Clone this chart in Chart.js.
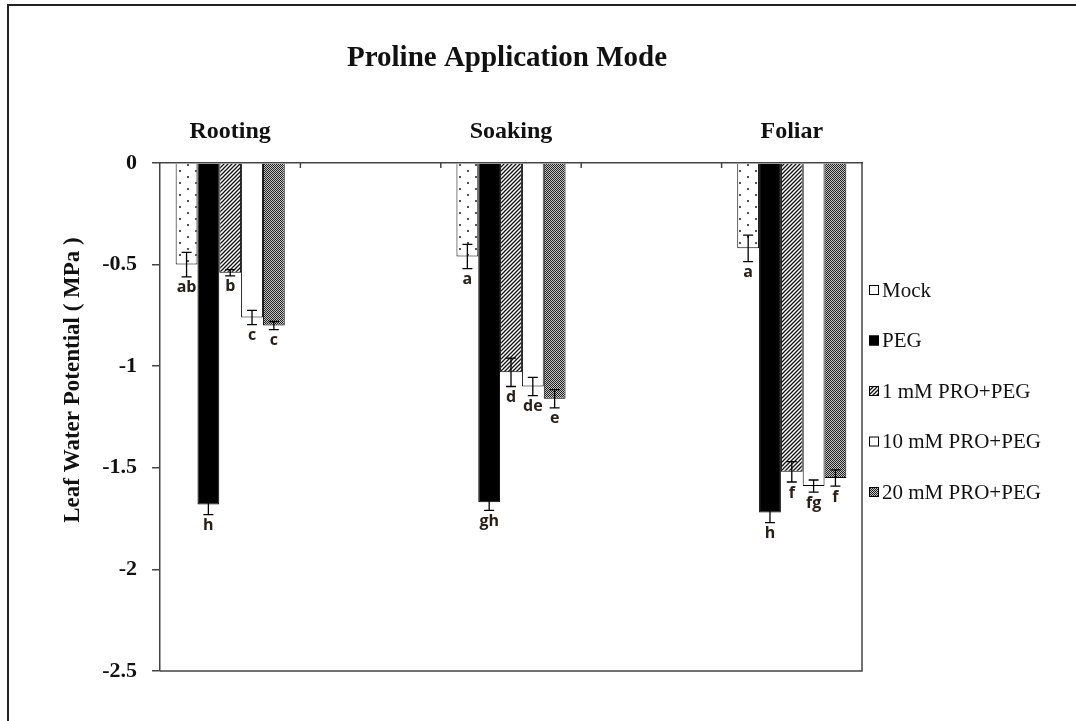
<!DOCTYPE html>
<html>
<head>
<meta charset="utf-8">
<script src="https://cdn.jsdelivr.net/npm/chart.js@4.4.0/dist/chart.umd.min.js"></script>
<style>
html, body { margin: 0; padding: 0; background: #fff; }
#wrap { position: relative; width: 1076px; height: 721px; }
</style>
</head>
<body>
<div id="wrap"><canvas id="myChart"></canvas></div>
<script>
// categories (blank ones keep the spacing between groups)
var categories = ['Rooting', '', 'Soaking', '', 'Foliar'];
var seriesNames = ['Mock', 'PEG', '1 mM PRO+PEG', '10 mM PRO+PEG', '20 mM PRO+PEG'];

var mock = [-0.50, null, -0.46, null, -0.42];
var peg = [-1.68, null, -1.67, null, -1.72];
var pro1 = [-0.54, null, -1.03, null, -1.52];
var pro10 = [-0.76, null, -1.10, null, -1.59];
var pro20 = [-0.80, null, -1.16, null, -1.55];

var mockErr = [0.06, null, 0.06, null, 0.065];
var pegErr = [0.05, null, 0.04, null, 0.05];
var pro1Err = [0.015, null, 0.07, null, 0.05];
var pro10Err = [0.035, null, 0.045, null, 0.03];
var pro20Err = [0.02, null, 0.045, null, 0.04];

var mockLetters = ['ab', '', 'a', '', 'a'];
var pegLetters = ['h', '', 'gh', '', 'h'];
var pro1Letters = ['b', '', 'd', '', 'f'];
var pro10Letters = ['c', '', 'de', '', 'fg'];
var pro20Letters = ['c', '', 'e', '', 'f'];

var yTicks = [0, -0.5, -1, -1.5, -2, -2.5];
var chartTitle = 'Proline Application Mode';
var yTitle = 'Leaf Water Potential ( MPa )';

var ctx = document.getElementById('myChart').getContext('2d');
var serif = "'Liberation Serif', 'Times New Roman', serif";

function makePattern(w, h, draw) {
  var c = document.createElement('canvas');
  c.width = w; c.height = h;
  var g = c.getContext('2d');
  g.fillStyle = '#fff';
  g.fillRect(0, 0, w, h);
  draw(g);
  return ctx.createPattern(c, 'repeat');
}

var dotPattern = makePattern(16, 12, function (g) {
  g.fillStyle = '#555';
  g.fillRect(3, 2, 2, 2);
  g.fillRect(11, 8, 2, 2);
});
var hatchPattern = makePattern(4, 4, function (g) {
  g.strokeStyle = '#111';
  g.lineWidth = 1.3;
  g.beginPath();
  g.moveTo(-1, 5); g.lineTo(5, -1);
  g.moveTo(-1, 1); g.lineTo(1, -1);
  g.moveTo(3, 5); g.lineTo(5, 3);
  g.stroke();
});
var densePattern = makePattern(2, 2, function (g) {
  g.fillStyle = '#c4c4c4';
  g.fillRect(0, 0, 2, 2);
  g.fillStyle = '#222';
  g.fillRect(0, 0, 1, 1);
  g.fillRect(1, 1, 1, 1);
});

var fills = [dotPattern, '#000', hatchPattern, '#fff', densePattern];
var values = [mock, peg, pro1, pro10, pro20];
var errs = [mockErr, pegErr, pro1Err, pro10Err, pro20Err];
var letters = [mockLetters, pegLetters, pro1Letters, pro10Letters, pro20Letters];

var datasets = seriesNames.map(function (name, i) {
  return {
    label: name,
    data: values[i],
    errors: errs[i],
    letters: letters[i],
    backgroundColor: fills[i],
    borderColor: '#000',
    borderWidth: 1,
    categoryPercentage: 0.777,
    barPercentage: 1.0
  };
});

// outer frame, titles, plot box, x ticks
var framePlugin = {
  id: 'frame',
  beforeDraw: function (chart) {
    var c = chart.ctx;
    c.save();
    c.fillStyle = '#fff';
    c.fillRect(0, 0, chart.width, chart.height);
    c.strokeStyle = '#222';
    c.lineWidth = 2;
    c.beginPath();
    c.moveTo(8, chart.height);
    c.lineTo(8, 5);
    c.lineTo(chart.width, 5);
    c.stroke();
    c.fillStyle = '#111';
    c.font = 'bold 29px ' + serif;
    c.textAlign = 'center';
    c.textBaseline = 'middle';
    c.fillText(chartTitle, 507, 59);
    c.translate(73, 380);
    c.rotate(-Math.PI / 2);
    c.font = 'bold 23px ' + serif;
    c.fillText(yTitle, 0, 0);
    c.restore();
  },
  afterDraw: function (chart) {
    var c = chart.ctx, a = chart.chartArea, x = chart.scales.x;
    c.save();
    c.strokeStyle = '#444';
    c.lineWidth = 1.5;
    c.beginPath();
    c.moveTo(a.left, a.bottom);
    c.lineTo(a.right, a.bottom);
    c.lineTo(a.right, a.top);
    for (var i = 0; i < categories.length - 1; i++) {
      var bx = (x.getPixelForValue(i) + x.getPixelForValue(i + 1)) / 2;
      c.moveTo(bx, a.top);
      c.lineTo(bx, a.top + 5);
    }
    c.stroke();
    c.restore();
  }
};

var errorBars = {
  id: 'errorBars',
  afterDatasetsDraw: function (chart) {
    var c = chart.ctx, y = chart.scales.y;
    c.save();
    chart.data.datasets.forEach(function (ds, i) {
      var meta = chart.getDatasetMeta(i);
      meta.data.forEach(function (bar, j) {
        var v = ds.data[j];
        if (v == null) return;
        var e = ds.errors[j];
        var t = y.getPixelForValue(v + e), b = y.getPixelForValue(v - e);
        c.strokeStyle = '#000';
        c.lineWidth = 1.3;
        c.beginPath();
        c.moveTo(bar.x, t); c.lineTo(bar.x, b);
        c.moveTo(bar.x - 5, t); c.lineTo(bar.x + 5, t);
        c.moveTo(bar.x - 5, b); c.lineTo(bar.x + 5, b);
        c.stroke();
        c.fillStyle = '#2a2018';
        c.font = "bold 16px 'Open Sans', sans-serif";
        c.textAlign = 'center';
        c.textBaseline = 'middle';
        c.fillText(ds.letters[j], bar.x, b + 11);
      });
    });
    c.restore();
  }
};

var legendPlugin = {
  id: 'sideLegend',
  afterDraw: function (chart) {
    var c = chart.ctx;
    c.save();
    chart.data.datasets.forEach(function (ds, i) {
      var yy = 290 + i * 50.5;
      c.fillStyle = ds.backgroundColor;
      c.fillRect(869, yy - 5, 10, 10);
      c.strokeStyle = '#000';
      c.lineWidth = 1;
      c.strokeRect(869.5, yy - 4.5, 9, 9);
      c.fillStyle = '#111';
      c.font = '21px ' + serif;
      c.textAlign = 'left';
      c.textBaseline = 'middle';
      c.fillText(ds.label, 882, yy + 1);
    });
    c.restore();
  }
};

var myChart = new Chart(ctx, {
  type: 'bar',
  data: {
    labels: categories,
    datasets: datasets
  },
  plugins: [framePlugin, errorBars, legendPlugin],
  options: {
    responsive: true,
    maintainAspectRatio: false,
    animation: false,
    layout: { padding: { left: 0, right: 214, top: 0, bottom: 50 } },
    plugins: {
      legend: { display: false },
      tooltip: { enabled: false }
    },
    scales: {
      x: {
        position: 'top',
        grid: { display: false, drawTicks: false },
        border: { display: true, color: '#444', width: 1.5 },
        ticks: {
          color: '#111',
          padding: 17,
          maxRotation: 0,
          autoSkip: false,
          font: { family: serif, size: 24, weight: 'bold' }
        },
        afterFit: function (scale) { scale.height = 163; }
      },
      y: {
        min: -2.5,
        max: 0,
        afterBuildTicks: function (scale) {
          scale.ticks = yTicks.map(function (v) { return { value: v }; });
        },
        grid: { display: true, drawOnChartArea: false, drawTicks: true, tickLength: 8, color: '#444', lineWidth: 1.5 },
        border: { display: true, color: '#444', width: 1.5 },
        ticks: {
          color: '#111',
          padding: 15,
          font: { family: serif, size: 22, weight: 'bold' },
          callback: function (v) { return String(v); }
        },
        afterFit: function (scale) { scale.width = 160; }
      }
    }
  }
});
</script>
</body>
</html>
